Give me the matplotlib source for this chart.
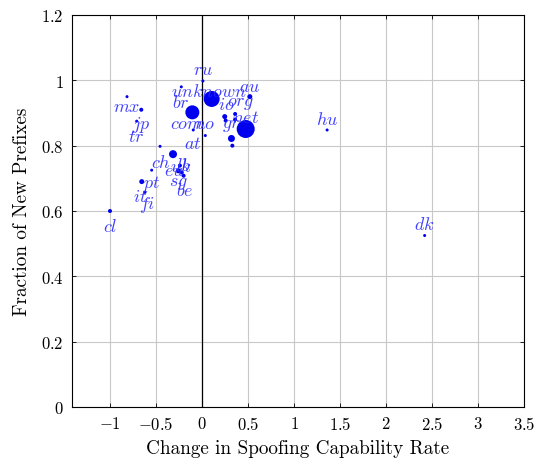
import matplotlib
matplotlib.use("Agg")
import matplotlib.pyplot as plt
from matplotlib.ticker import FuncFormatter

plt.rcParams["font.family"] = "cmr10"
plt.rcParams["mathtext.fontset"] = "cm"
plt.rcParams["axes.formatter.use_mathtext"] = True

# Per-group change in spoofing capability vs. fraction of new prefixes
labels = ["cl", "dk", "hu", "ru", "mx", "jp", "tr", "br", "unknown", "com",
          "no", "at", "au", "io", "org", "net", "gr", "", "", "",
          "ch", "uk", "pt", "it", "fi", "eu", "lb", "sg", "be"]
spoof_change = [-1.00, 2.42, 1.36, 0.01, -0.815, -0.66, -0.71, -0.225, 0.105, -0.105,
                0.036, -0.095, 0.52, 0.247, 0.36, 0.475, 0.32, 0.33, 0.257, 0.36,
                -0.456, -0.315, -0.547, -0.655, -0.62, -0.24, -0.257, -0.22, -0.20]
new_prefix_frac = [0.600, 0.525, 0.848, 0.998, 0.950, 0.910, 0.875, 0.980, 0.943, 0.902,
                   0.831, 0.848, 0.950, 0.889, 0.897, 0.851, 0.822, 0.800, 0.877, 0.880,
                   0.798, 0.774, 0.725, 0.690, 0.657, 0.739, 0.723, 0.718, 0.708]
# relative group weight (drawn as marker radius)
weights = [2.0, 1.5, 1.5, 1.5, 1.5, 2.0, 1.5, 1.5, 8.0, 7.0,
           1.5, 1.5, 2.5, 2.5, 2.0, 9.0, 3.5, 2.0, 2.0, 2.0,
           1.5, 4.0, 1.5, 2.5, 1.5, 2.0, 2.5, 2.0, 2.0]

# label placement relative to each marker, in pixels (right, down)
label_offsets = [(0, 15), (0, -12), (0, -11), (0, -12), (0, 10), (0, 14), (0, 15), (0, 15),
                 (-3, -8), (-5, 11), (-1, -12), (0, 13), (0, -10), (2, -13), (6, -11),
                 (0, -12), (0, -13), (0, 0), (0, 0), (0, 0),
                 (1, 15), (8, 11), (0, 13), (-2, 14), (2, 12), (-6, 5), (5, -6), (-3, 11), (1, 14)]

xticks = [-1, -0.5, 0, 0.5, 1, 1.5, 2, 2.5, 3, 3.5]
yticks = [0, 0.2, 0.4, 0.6, 0.8, 1.0, 1.2]

W, H, DPI = 538, 464, 100
fig = plt.figure(figsize=(W / DPI, H / DPI), dpi=DPI)
ax = fig.add_axes([72 / W, 1 - 408 / H, (524 - 72) / W, (408 - 16) / H])

ax.set_xlim(-1.413, 3.5)
ax.set_ylim(0, 1.2)
ax.set_xticks(xticks)
ax.set_yticks(yticks)


def fmt(v, _):
    s = ("%g" % v)
    return "$%s$" % s


ax.xaxis.set_major_formatter(FuncFormatter(fmt))
ax.yaxis.set_major_formatter(FuncFormatter(fmt))
ax.tick_params(direction="in", length=3, width=0.6, labelsize=12, top=True, right=True,
               pad=6)
ax.grid(True, color="#c8c8c8", linewidth=0.8)
ax.set_axisbelow(True)
for sp in ax.spines.values():
    sp.set_linewidth(0.8)

ax.axvline(0, color="black", linewidth=0.9, zorder=2)

px2pt = 72 / DPI
sizes = [(2 * r * px2pt) ** 2 for r in weights]
ax.scatter(spoof_change, new_prefix_frac, s=sizes, color="#0000ee", linewidths=0, zorder=3)

for lab, x, y, (dx, dy) in zip(labels, spoof_change, new_prefix_frac, label_offsets):
    if not lab:
        continue
    ax.annotate("$%s$" % lab, (x, y), xytext=(dx * px2pt, -dy * px2pt),
                textcoords="offset points", ha="center", va="center",
                fontsize=13, color="#2b2bff", alpha=0.9, zorder=4)

ax.set_xlabel("Change in Spoofing Capability Rate", fontsize=13.8, labelpad=5)
ax.set_ylabel("Fraction of New Prefixes", fontsize=13.8, labelpad=7)

fig.savefig("out.png", dpi=DPI)
